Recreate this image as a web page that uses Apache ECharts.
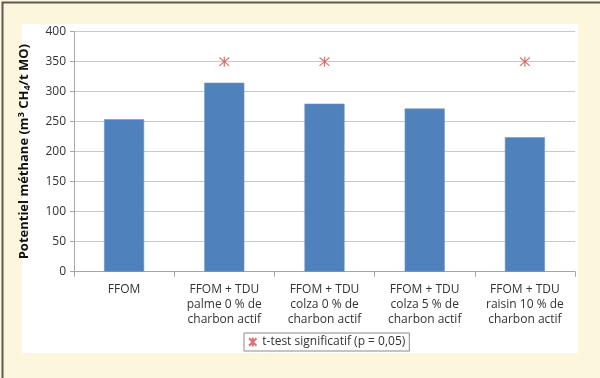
<!DOCTYPE html>
<html>
<head>
<meta charset="utf-8">
<script src="https://cdn.jsdelivr.net/npm/echarts@6/dist/echarts.min.js"></script>
<style>
html,body{margin:0;padding:0;}
#c{width:600px;height:378px;}
</style>
</head>
<body>
<div id="c"></div>
<script>
const categories = [
  'FFOM',
  'FFOM + TDU\npalme 0 % de\ncharbon actif',
  'FFOM + TDU\ncolza 0 % de\ncharbon actif',
  'FFOM + TDU\ncolza 5 % de\ncharbon actif',
  'FFOM + TDU\nraisin 10 % de\ncharbon actif'
];
const methane = [254, 315, 280, 272, 224];
const significant = [null, 350, 350, null, 350];
const yTicks = { min: 0, max: 400, interval: 50 };
const legendName = 't-test significatif (p = 0,05)';

const chart = echarts.init(document.getElementById('c'), null, { renderer: 'canvas' });
const font = '"Open Sans", "Liberation Sans", sans-serif';
const starPath = 'path://M0,0L10,10M10,0L0,10M5,-1L5,11';

chart.setOption({
  backgroundColor: '#fcf6dd',
  animation: false,
  graphic: [
    { type: 'rect', left: 0, top: 0, shape: { x: 0.5, y: 0.5, width: 599, height: 377 },
      style: { fill: 'none', stroke: '#5a5a55', lineWidth: 2 }, z: 100 },
    { type: 'rect', shape: { x: 22, y: 24, width: 556, height: 329 },
      style: { fill: '#ffffff' }, z: -10 }
  ],
  grid: { left: 74, right: 25, top: 31.7, bottom: 106.3, containLabel: false },
  legend: {
    data: [{ name: legendName, icon: starPath }],
    left: 244, top: 333,
    borderColor: '#8a8a8a', borderWidth: 1, borderRadius: 0,
    padding: [3, 4, 3, 4],
    itemWidth: 9, itemHeight: 9, itemGap: 4,
    textStyle: { fontFamily: font, fontSize: 12, color: '#333' }
  },
  xAxis: {
    type: 'category',
    data: categories,
    axisLine: { lineStyle: { color: '#a6a6a6' } },
    axisTick: { show: true, length: 5, lineStyle: { color: '#a6a6a6' } },
    axisLabel: { fontFamily: font, fontSize: 12, color: '#333', lineHeight: 15, margin: 10, interval: 0 }
  },
  yAxis: {
    type: 'value',
    min: yTicks.min, max: yTicks.max, interval: yTicks.interval,
    name: '{b|Potentiel méthane (m}{sup|3}{b| CH}{sub|4}{b|/t MO)}',
    nameLocation: 'middle',
    nameGap: 42,
    nameRotate: 90,
    nameTextStyle: {
      rich: {
        b: { fontFamily: font, fontSize: 13, fontWeight: 'bold', color: '#111' },
        sup: { fontFamily: font, fontSize: 9, fontWeight: 'bold', color: '#111', verticalAlign: 'top', padding: [0, 0, 6, 0] },
        sub: { fontFamily: font, fontSize: 9, fontWeight: 'bold', color: '#111', padding: [6, 0, 0, 0] }
      }
    },
    axisLine: { show: true, lineStyle: { color: '#a6a6a6' } },
    axisTick: { show: true, length: 4, lineStyle: { color: '#a6a6a6' } },
    axisLabel: { fontFamily: font, fontSize: 12, color: '#333', margin: 8 },
    splitLine: { lineStyle: { color: '#c8c8c8', width: 1 } }
  },
  series: [
    {
      type: 'bar',
      name: 'Potentiel',
      data: methane,
      barWidth: '40%',
      itemStyle: { color: '#4f81bd', borderColor: '#6e97c8', borderWidth: 0.6 }
    },
    {
      type: 'scatter',
      name: legendName,
      data: significant,
      symbol: starPath,
      symbolSize: 10,
      itemStyle: { color: 'transparent', borderColor: '#d0504d', borderWidth: 1.2 },
      z: 5
    }
  ]
});
</script>
</body>
</html>
